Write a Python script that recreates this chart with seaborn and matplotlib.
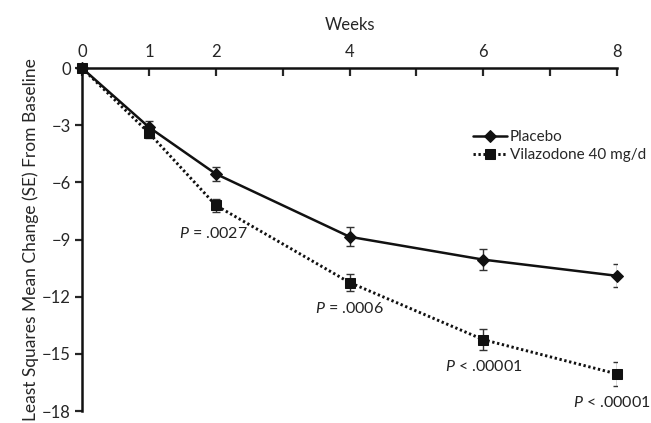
import numpy as np
import pandas as pd
import seaborn as sns
import matplotlib.pyplot as plt

weeks = [0, 1, 2, 4, 6, 8]
placebo = [0, -3.1, -5.55, -8.85, -10.05, -10.9]
placebo_se = [0, 0.3, 0.35, 0.5, 0.55, 0.6]
vila = [0, -3.4, -7.2, -11.25, -14.25, -16.05]
vila_se = [0, 0.25, 0.35, 0.45, 0.55, 0.65]
p_labels = ['P = .0027', 'P = .0006', 'P < .00001', 'P < .00001']
p_weeks = [2, 4, 6, 8]

sns.set_style('white')
plt.rcParams['font.family'] = ['Lato', 'DejaVu Sans']
plt.rcParams['mathtext.fontset'] = 'custom'
plt.rcParams['mathtext.it'] = 'Lato:italic'

df = pd.DataFrame({'week': weeks * 2,
                   'change': placebo + vila,
                   'se': placebo_se + vila_se,
                   'group': ['Placebo'] * 6 + ['Vilazodone 40 mg/d'] * 6})

fig = plt.figure(figsize=(6.51, 4.23), dpi=100)
ax = fig.add_axes([0.126, 0.028, 0.822, 0.811])

styles = {'Placebo': dict(marker='D', ls='-', ms=6.5, lw=1.8),
          'Vilazodone 40 mg/d': dict(marker='s', ls=(0, (0.8, 0.9)), ms=6.5, lw=2.1)}
for name, sub in df.groupby('group'):
    ax.errorbar(sub['week'], sub['change'], yerr=sub['se'], fmt='none',
                ecolor='#333333', elinewidth=1, capsize=3, capthick=1, zorder=2)
    sns.lineplot(data=sub, x='week', y='change', ax=ax, color='#111111',
                 label=name, markeredgecolor='#111111',
                 clip_on=False, zorder=3, **styles[name])

offsets = [(-2, -10), (0, -7), (0, -6), (-4, -6)]
for w, t, (dx, dy) in zip(p_weeks, p_labels, offsets):
    v = vila[weeks.index(w)]
    s = vila_se[weeks.index(w)]
    pre, rest = t.split(' ', 1)
    ax.annotate(f'$\\it{{P}}$ {rest}', (w, v - s), xytext=(dx, dy),
                textcoords='offset points', ha='center', va='top', fontsize=11.5,
                color='#222222', annotation_clip=False)

ax.set_xlim(0, 8)
ax.set_ylim(-18, 0)
ax.xaxis.tick_top()
ax.xaxis.set_label_position('top')
ax.set_xticks(range(0, 9))
ax.set_xticklabels(['0', '1', '2', '', '4', '', '6', '', '8'], fontsize=12)
ax.set_yticks(np.arange(0, -19, -3))
ax.set_yticklabels(['0'] + [f'\u2212{abs(v)}' for v in range(3, 19, 3)], fontsize=12)
ax.tick_params(axis='x', direction='in', length=6, width=1.6, pad=6)
ax.tick_params(axis='y', direction='out', length=5, width=1.6, pad=3, left=True)
ax.set_xlabel('Weeks', fontsize=12, labelpad=10)
ax.set_ylabel('Least Squares Mean Change (SE) From Baseline', fontsize=12.5, labelpad=2)

for side in ['right', 'bottom']:
    ax.spines[side].set_visible(False)
for side in ['top', 'left']:
    ax.spines[side].set_linewidth(1.8)
    ax.spines[side].set_color('#111111')

ax.legend(loc='upper left', bbox_to_anchor=(0.705, 0.86), frameon=False,
          fontsize=11, handlelength=2.2, handletextpad=0.2, labelspacing=0.3)

fig.savefig('out.png', dpi=100)
